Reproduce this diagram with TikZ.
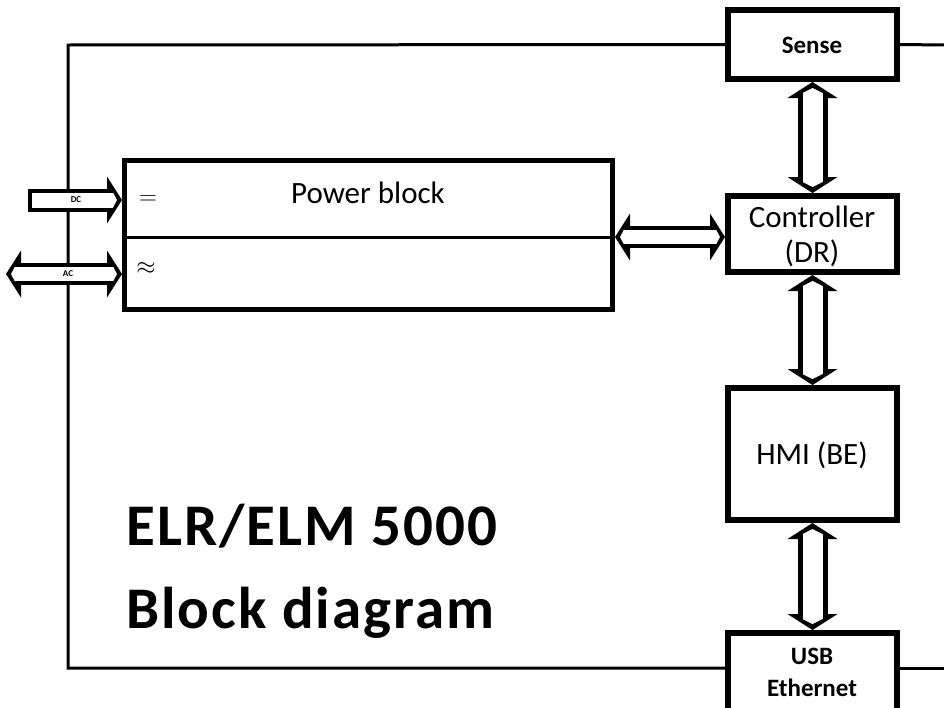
\documentclass[tikz,border=0pt]{standalone}
\usepackage{fontspec}
\setmainfont{Carlito}
\usetikzlibrary{arrows.meta}
\tikzset{
  vo/.tip={Triangle[length=16pt,width=50pt,line width=0pt]},
  vi/.tip={Triangle[length=5pt,width=20pt,line width=0pt]},
  ho/.tip={Triangle[length=15pt,width=47pt,line width=0pt]},
  hi/.tip={Triangle[length=4pt,width=15pt,line width=0pt]},
  vout/.style={line width=30pt},
  vin/.style={white,line width=20pt,shorten <=6pt,shorten >=6pt},
  hout/.style={line width=22pt},
  hin/.style={white,line width=14pt,shorten <=5pt,shorten >=5pt}
}
\newcommand{\vbus}[2]{\draw[vout,vo-vo] (#1) -- (#2); \draw[vin,vi-vi] (#1) -- (#2);}
\newcommand{\hbus}[2]{\draw[hout,ho-ho] (#1) -- (#2); \draw[hin,hi-hi] (#1) -- (#2);}

\begin{document}
\begin{tikzpicture}[x=1pt,y=-1pt,
    every node/.append style={inner sep=0pt},
    block/.style={draw,line width=6pt,minimum width=169pt},
    txt/.style={font=\fontsize{31}{35}\selectfont,align=center},
    wire/.style={line width=3pt}]
  \useasboundingbox (0,0) rectangle (944,707);
  \clip (0,0) rectangle (944,707);
  \tikzstyle{small} = [font=\fontsize{25}{32}\selectfont\bfseries,align=center]
  \tikzstyle{title} = [anchor=base west,font=\fontsize{59}{60}\selectfont\bfseries\addfontfeatures{LetterSpace=3.5}]
  \node (sense) [block,minimum height=69pt] at (812.5,44.5) {};
  \node (ctrl) [block,minimum height=76pt] at (812.5,234) {};
  \node (hmi) [block,minimum height=132pt] at (812.5,454) {};
  \node (usb) [block,minimum height=84pt] at (812.5,675) {};
  \node (pb) [draw,line width=5pt,minimum width=488pt,minimum height=149pt] at (368.5,235) {};
  \coordinate (pbl) at (pb.west |- 0,237);
  \coordinate (pbr) at (pb.east |- 0,237);
  \draw[line width=3pt] (pbl) -- (pbr);
  % texts
  \node (sensetxt) [small] at (812,45) {Sense};
  \node (ctrltxt) [txt] at (812,236) {Controller\\(DR)};
  \node (hmitxt) [txt] at (812,455) {HMI (BE)};
  \node (usbtxt) [small] at (812,672) {USB\\Ethernet};
  \node (pbtxt) [txt,anchor=base] at (368,203) {Power block};
  \node (eq) [txt] at (148,200) {$=$};
  \node (approx) [txt] at (146,268) {$\approx$};
  \node (elr) [title] at (126,545) {ELR/ELM 5000};
  \node (bd) [title] at (126,628) {Block diagram};
  % frame
  \coordinate (tl) at (68,45);
  \coordinate (bl) at (68,668);
  \coordinate (tr) at (944,45);
  \coordinate (br) at (944,668);
  \draw[wire] (sense.west) -- (tl) -- (bl) -- (bl -| usb.west);
  \draw[wire] (sense.east) -- (tr);
  \draw[wire] (bl -| usb.east) -- (br);
  % buses
  \vbus{sense.south}{ctrl.north}
  \vbus{ctrl.south}{hmi.north}
  \vbus{hmi.south}{usb.north}
  \coordinate (pbout) at (pbr -| pb.east);
  \coordinate (ctrlin) at (pbr -| ctrl.west);
  \hbus{pbout}{ctrlin}
  % inputs
  \coordinate (dcin) at (28,200);
  \coordinate (dcend) at (dcin -| pb.west);
  \coordinate (acin) at (6,274);
  \coordinate (acend) at (acin -| pb.west);
  \draw[line width=23pt,-ho] (dcin) -- (dcend);
  \draw[white,line width=15pt,shorten <=4pt,shorten >=5pt,-hi] (dcin) -- (dcend);
  \hbus{acin}{acend}
  \node (dc) [font=\fontsize{9}{9}\selectfont\bfseries] at (76,200) {DC};
  \node (ac) [font=\fontsize{9}{9}\selectfont\bfseries] at (68,274) {AC};
\end{tikzpicture}
\end{document}
